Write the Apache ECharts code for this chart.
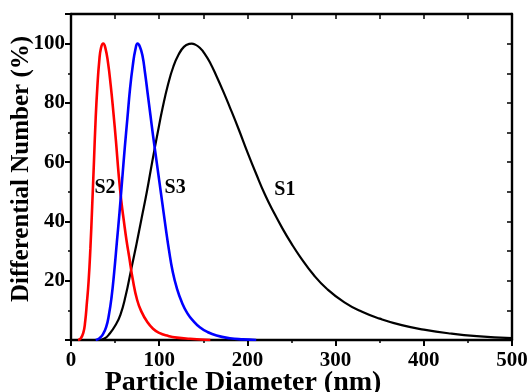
<!DOCTYPE html>
<html>
<head>
<meta charset="utf-8">
<script src="https://cdn.jsdelivr.net/npm/echarts@6/dist/echarts.min.js"></script>
<style>html,body{margin:0;padding:0;background:#fff}#c{width:529px;height:392px}</style>
</head>
<body>
<div id="c"></div>
<script>
// Particle diameter (nm) and differential number (%)
var s1X = [32,38,44,50,56,62,68,74,80,86,92,98,104,110,116,122,128,134,137,140,146,152,158,165,172,180,190,200,210,220,230,240,250,260,275,290,310,330,350,375,400,430,460,500];
var s1Y = [0,0.5,2.2,4.8,8.5,15,23.5,32,41,50,60,69.5,78.5,86.2,92.2,96.3,98.9,99.9,100,99.8,98.6,96.4,93.4,89,84.3,78.6,71.2,63.4,56,49,43,37.5,32.5,28,22,17.3,12.7,9.5,7.2,5,3.5,2.2,1.3,0.6];
var s2X = [8,11,14,16,18,20,22,24,26,28,30,32,34,36.6,39,42,45,48,51,54,57,60,63,66,70,75,80,86,93,100,110,120,135,158];
var s2Y = [0,0.5,2.5,6,12.5,20,31,45,60,75,86,94,98.5,100,98.5,93.5,86,77,67,56,47,40,33.5,28,20.5,13.5,9.5,6.3,3.8,2.4,1.4,0.8,0.4,0];
var s3X = [28,32,36,40,43,46,49,52,55,58,61,64,67,70,73,75.5,78,81,84,87,90,93,96,99,102,105,108,111,115,120,126,132,139,146,154,165,180,195,210];
var s3Y = [0,0.5,1.8,4.5,8.5,14.5,23,33,43,54,65,75,85,92.5,98,100,99,96,90,83,76,69,62.5,56,49.5,43,36.5,30.5,23.5,17.5,12.5,9,6.3,4.3,2.8,1.5,0.6,0.2,0];
var seriesNames = ['S1','S2','S3'];
var seriesColors = ['#000000','#ff0000','#0000ff'];
var labelTexts = ['S2','S3','S1'];
var labelX = [38.5,118,242.5];
var labelY = [51.4,51.4,50.7];
var xTicks = [0,100,200,300,400,500];
var yTicks = [20,40,60,80,100];
var xTitle = 'Particle Diameter (nm)';
var yTitle = 'Differential Number (%)';

function zip(a,b){return a.map(function(v,i){return [v,b[i]];});}
var font = '"Liberation Serif","Times New Roman",serif';
var chart = echarts.init(document.getElementById('c'), null, {renderer:'canvas'});
var lineData = [zip(s1X,s1Y), zip(s2X,s2Y), zip(s3X,s3Y)];
var series = lineData.map(function(d,i){
  return {type:'line', name:seriesNames[i], data:d, smooth:0.5, showSymbol:false, symbol:'none',
    lineStyle:{color:seriesColors[i], width: i===0?2.2:2.6}, itemStyle:{color:seriesColors[i]}, z:3};
});
var axisLine = {show:true, onZero:false, lineStyle:{color:'#000', width:2.4}};
var titles = [
  {type:'text', x:243, y:383, z:10, style:{text:xTitle, fill:'#000', font:'bold 28px ' + font, textAlign:'center', textVerticalAlign:'middle'}},
  {type:'text', x:22, y:169, rotation:Math.PI/2, z:10, style:{text:yTitle, fill:'#000', font:'bold 25px ' + font, textAlign:'center', textVerticalAlign:'middle'}}
];
chart.setOption({
  animation:false,
  backgroundColor:'#fff',
  grid:{left:71, right:17, top:14, bottom:52, containLabel:false, outerBoundsMode:'none'},
  graphic:titles,
  xAxis:[{type:'value', min:0, max:500, interval:100, position:'bottom',
    axisLine:axisLine, splitLine:{show:false},
    axisTick:{show:true, inside:false, length:6, lineStyle:{color:'#000', width:2}},
    minorTick:{show:true, splitNumber:2, length:3, lineStyle:{color:'#000', width:1.5}},
    axisLabel:{color:'#000', fontFamily:font, fontWeight:'bold', fontSize:21, margin:10,
      formatter:function(v){return xTicks.indexOf(v)>=0?String(v):'';}}},
   {type:'value', min:0, max:500, interval:50, position:'top',
    axisLine:axisLine, splitLine:{show:false},
    axisTick:{show:true, inside:true, length:5, lineStyle:{color:'#000', width:1.5}},
    axisLabel:{show:false}}],
  yAxis:[{type:'value', min:0, max:110, interval:20, position:'left',
    axisLine:axisLine, splitLine:{show:false},
    axisTick:{show:true, inside:false, length:6, lineStyle:{color:'#000', width:2}},
    minorTick:{show:true, splitNumber:2, length:3, lineStyle:{color:'#000', width:1.5}},
    axisLabel:{color:'#000', fontFamily:font, fontWeight:'bold', fontSize:21, margin:6,
      formatter:function(v){return yTicks.indexOf(v)>=0?String(v):'';}}},
   {type:'value', min:0, max:110, interval:10, position:'right',
    axisLine:axisLine, splitLine:{show:false},
    axisTick:{show:true, inside:true, length:5, lineStyle:{color:'#000', width:1.5}},
    axisLabel:{show:false}}],
  series:series
});
var labelGraphics = labelTexts.map(function(t,i){
  var p = chart.convertToPixel({xAxisIndex:0, yAxisIndex:0}, [labelX[i], labelY[i]]);
  return {type:'text', x:p[0], y:p[1], z:10, style:{text:t, fill:'#000', font:'bold 20px ' + font, textAlign:'center', textVerticalAlign:'middle'}};
});
chart.setOption({graphic: titles.concat(labelGraphics)});
</script>
</body>
</html>
